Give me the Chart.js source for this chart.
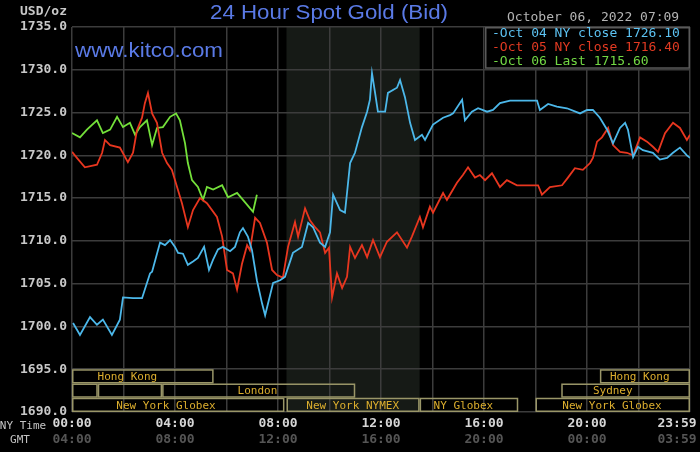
<!DOCTYPE html>
<html>
<head>
<meta charset="utf-8">
<script src="https://cdn.jsdelivr.net/npm/chart.js@4.4.0/dist/chart.umd.min.js"></script>
<style>
html,body{margin:0;padding:0;background:#000;}
canvas{display:block;}
</style>
</head>
<body>
<canvas id="c" width="700" height="452"></canvas>
<script>
// ---- data (NY time in hours, price in USD/oz) ----
const oct04Hours = [0.04,0.31,0.7,0.97,1.2,1.55,1.86,1.98,2.37,2.72,3.03,3.11,3.42,3.61,3.81,4.0,4.12,4.31,4.5,4.7,4.89,5.13,5.32,5.48,5.67,5.86,6.14,6.33,6.52,6.64,6.83,6.99,7.18,7.38,7.5,7.81,8.08,8.27,8.58,8.93,9.17,9.36,9.63,9.83,10.02,10.14,10.41,10.6,10.68,10.8,10.99,11.26,11.46,11.57,11.65,11.77,11.88,12.16,12.27,12.62,12.74,12.93,13.13,13.32,13.59,13.71,14.02,14.41,14.68,14.8,15.15,15.26,15.53,15.77,16.12,16.35,16.62,17.01,18.06,18.17,18.49,18.83,19.22,19.73,20.0,20.23,20.5,20.78,21.01,21.28,21.48,21.59,21.79,21.98,22.17,22.56,22.83,23.11,23.34,23.61,23.88,24.0];
const oct04Values = [1700.4,1699.0,1701.1,1700.2,1700.8,1699.0,1700.8,1703.4,1703.3,1703.3,1706.2,1706.4,1709.8,1709.5,1710.1,1709.3,1708.6,1708.5,1707.2,1707.6,1708.0,1709.3,1706.6,1707.8,1709.0,1709.3,1708.8,1709.3,1711.0,1711.5,1710.5,1708.9,1705.4,1702.7,1701.3,1705.1,1705.4,1705.8,1708.6,1709.3,1712.1,1711.6,1709.8,1709.3,1711.0,1715.4,1713.6,1713.3,1715.6,1719.1,1720.3,1723.3,1725.1,1726.5,1729.6,1727.3,1725.1,1725.1,1727.3,1727.9,1728.8,1726.8,1723.8,1721.8,1722.4,1721.8,1723.6,1724.4,1724.7,1724.9,1726.5,1724.1,1725.1,1725.5,1725.1,1725.3,1726.1,1726.4,1726.4,1725.3,1726.0,1725.7,1725.5,1724.9,1725.3,1725.3,1724.4,1723.0,1721.4,1723.2,1723.8,1723.0,1719.8,1721.0,1720.6,1720.3,1719.5,1719.7,1720.3,1720.9,1720.0,1719.7];

const oct05Hours = [0.0,0.19,0.5,0.97,1.17,1.28,1.48,1.86,2.17,2.37,2.52,2.72,2.83,2.95,3.11,3.3,3.5,3.69,3.88,4.08,4.27,4.5,4.7,4.97,5.24,5.63,5.83,6.02,6.25,6.41,6.6,6.8,6.91,7.11,7.3,7.57,7.77,7.96,8.19,8.39,8.66,8.78,9.05,9.24,9.44,9.63,9.83,9.98,10.1,10.29,10.49,10.68,10.8,10.99,11.26,11.46,11.69,11.96,12.23,12.62,13.01,13.2,13.51,13.63,13.9,14.02,14.41,14.56,14.95,15.18,15.38,15.65,15.84,16.04,16.31,16.62,16.89,17.28,18.1,18.25,18.56,19.03,19.26,19.53,19.84,20.12,20.23,20.39,20.58,20.82,21.01,21.28,21.55,21.79,22.06,22.33,22.56,22.76,23.03,23.34,23.61,23.88,24.0];
const oct05Values = [1720.4,1719.7,1718.6,1718.9,1720.3,1721.8,1721.2,1720.9,1719.2,1720.3,1722.9,1724.4,1726.1,1727.3,1724.9,1723.8,1720.3,1719.1,1718.3,1716.3,1714.4,1711.6,1713.6,1715.0,1714.4,1712.8,1710.5,1706.6,1706.2,1704.3,1707.3,1709.5,1708.9,1712.7,1712.1,1709.8,1706.6,1706.0,1705.7,1709.3,1712.2,1710.5,1713.8,1712.4,1711.6,1711.0,1708.6,1709.2,1703.4,1706.2,1704.5,1705.8,1709.3,1708.0,1709.5,1708.1,1710.1,1708.1,1709.9,1711.0,1709.2,1710.5,1712.8,1711.6,1714.0,1713.3,1715.6,1714.8,1716.8,1717.7,1718.6,1717.4,1717.7,1717.1,1717.9,1716.3,1717.1,1716.5,1716.5,1715.4,1716.3,1716.5,1717.4,1718.5,1718.3,1719.1,1719.7,1721.6,1722.1,1723.2,1721.2,1720.4,1720.3,1720.0,1722.1,1721.6,1721.0,1720.4,1722.6,1723.8,1723.2,1721.8,1722.4];

const oct06Hours = [0.0,0.31,0.58,0.97,1.2,1.48,1.75,1.98,2.25,2.45,2.64,2.91,3.11,3.3,3.53,3.81,4.04,4.19,4.39,4.5,4.66,4.89,5.09,5.24,5.48,5.83,6.06,6.41,6.64,7.03,7.18];
const oct06Values = [1722.6,1722.1,1723.0,1724.1,1722.6,1723.0,1724.5,1723.3,1723.8,1722.4,1723.3,1724.1,1721.2,1723.2,1723.3,1724.5,1724.9,1724.1,1721.4,1719.1,1717.1,1716.3,1714.8,1716.3,1716.0,1716.5,1715.1,1715.6,1714.8,1713.4,1715.4];

const seriesLabels = ['Oct 04 NY close 1726.10','Oct 05 NY close 1716.40','Oct 06 Last 1715.60'];
const seriesColors = ['#4cb8ea','#e8361f','#74e03a'];
const legendColors = ['#5cc2f2','#e23a22','#72d844'];

const xTickHours = [0,4,8,12,16,20,24];
const nyTimeLabels = ['00:00','04:00','08:00','12:00','16:00','20:00','23:59'];
const gmtLabels = ['04:00','08:00','12:00','16:00','20:00','00:00','03:59'];

const nymexShade = [8.33, 13.5];

const sessionNames = ['Hong Kong','','','London','New York Globex','New York NYMEX','NY Globex','Hong Kong','Sydney','New York Globex'];
const sessionStart = [0,0,1.0,3.5,0,8.33,13.5,20.5,19.0,18.0];
const sessionEnd   = [5.5,1.0,3.5,11.0,8.25,13.5,17.33,24,24,24];
const sessionRow   = [0,1,1,1,2,2,2,0,1,2];
const sessionLabelAt = [2.15,0,0,7.2,3.65,10.9,15.2,22.05,21.0,20.97];

const titleText = '24 Hour Spot Gold (Bid)';
const siteText = 'www.kitco.com';
const dateText = 'October 06, 2022 07:09';
const unitText = 'USD/oz';

// ---- helpers ----
const MONO = '"DejaVu Sans Mono", monospace';
function fitText(ctx, text, left, baseline, width){
  const w = ctx.measureText(text).width;
  ctx.save();
  ctx.translate(left, baseline);
  ctx.scale(width / w, 1);
  ctx.textAlign = 'left';
  ctx.textBaseline = 'alphabetic';
  ctx.fillText(text, 0, 0);
  ctx.restore();
}

const overlay = {
  id: 'overlay',
  beforeDraw(chart){
    const {ctx, chartArea:a, scales:{x}} = chart;
    ctx.save();
    ctx.fillStyle = '#000';
    ctx.fillRect(0,0,chart.width,chart.height);
    const x1 = x.getPixelForValue(nymexShade[0]);
    const x2 = x.getPixelForValue(nymexShade[1]);
    ctx.fillStyle = '#161a16';
    ctx.fillRect(x1, a.top, x2-x1, a.bottom-a.top);
    ctx.restore();
  },
  afterDraw(chart){
    const {ctx, chartArea:a, scales:{x,y}} = chart;
    ctx.save();
    // session boxes
    const top = y.getPixelForValue(1695), bot = y.getPixelForValue(1690);
    const rh = (bot - top) / 3;
    ctx.lineWidth = 1.5;
    ctx.strokeStyle = '#9a9668';
    ctx.font = '11px ' + MONO;
    ctx.textAlign = 'center';
    ctx.textBaseline = 'middle';
    for (let i=0;i<sessionNames.length;i++){
      const bx1 = x.getPixelForValue(sessionStart[i]);
      const bx2 = x.getPixelForValue(sessionEnd[i]);
      const by = top + sessionRow[i]*rh;
      ctx.strokeRect(bx1+0.75, by+0.75, bx2-bx1-1.5, rh-1.5);
      if (sessionNames[i]){
        ctx.fillStyle = '#dcae2e';
        ctx.fillText(sessionNames[i], x.getPixelForValue(sessionLabelAt[i]), by + rh/2 + 1);
      }
    }
    // x labels
    ctx.font = 'bold 13px ' + MONO;
    for (let i=0;i<xTickHours.length;i++){
      let px = x.getPixelForValue(xTickHours[i]);
      if (i === xTickHours.length-1) px -= 13;
      ctx.textAlign = 'center';
      ctx.fillStyle = '#d6d6d6';
      ctx.fillText(nyTimeLabels[i], px, a.bottom + 12);
      ctx.fillStyle = '#555555';
      ctx.fillText(gmtLabels[i], px, a.bottom + 28);
    }
    ctx.font = '11px ' + MONO;
    ctx.fillStyle = '#c4c4c4';
    ctx.textAlign = 'center';
    ctx.fillText('NY Time', 23, a.bottom + 14);
    ctx.fillText('GMT', 20, a.bottom + 28);
    // unit label
    ctx.font = 'bold 13px ' + MONO;
    ctx.textAlign = 'right';
    ctx.fillStyle = '#c8c8c8';
    ctx.fillText(unitText, a.left - 5, 12);
    // date
    ctx.font = '13px ' + MONO;
    ctx.textAlign = 'left';
    ctx.fillStyle = '#b4b4b4';
    ctx.fillText(dateText, 507, 18);
    // title and site
    ctx.fillStyle = '#5a7ae6';
    ctx.font = '20px "Liberation Sans", Arial, sans-serif';
    fitText(ctx, titleText, 210, 19, 238);
    fitText(ctx, siteText, a.left + 3, 57, 148);
    // legend box
    const lx1 = 485, lx2 = a.right, ly1 = a.top, ly2 = y.getPixelForValue(1730) - 1;
    ctx.fillStyle = '#000';
    ctx.fillRect(lx1, ly1, lx2-lx1, ly2-ly1);
    ctx.strokeStyle = '#5a5a5a';
    ctx.lineWidth = 1.5;
    ctx.strokeRect(lx1+0.75, ly1+0.75, lx2-lx1-1.5, ly2-ly1-1.5);
    ctx.font = '13px ' + MONO;
    ctx.textAlign = 'left';
    ctx.textBaseline = 'middle';
    for (let i=0;i<seriesLabels.length;i++){
      ctx.fillStyle = legendColors[i];
      ctx.fillText('-' + seriesLabels[i], lx1 + 7, ly1 + 7 + i*14);
    }
    ctx.restore();
  }
};

const toPts = (hs, vs) => hs.map((h,i)=>({x:h, y:vs[i]}));

new Chart(document.getElementById('c'), {
  type: 'line',
  data: {
    datasets: [
      {label: seriesLabels[0], data: toPts(oct04Hours, oct04Values), borderColor: seriesColors[0]},
      {label: seriesLabels[1], data: toPts(oct05Hours, oct05Values), borderColor: seriesColors[1]},
      {label: seriesLabels[2], data: toPts(oct06Hours, oct06Values), borderColor: seriesColors[2]}
    ].map(d => Object.assign(d, {borderWidth: 1.8, pointRadius: 0, tension: 0, fill: false}))
  },
  options: {
    responsive: false,
    animation: false,
    layout: {padding: {top: 27, right: 10, bottom: 40, left: 0}},
    plugins: {legend: {display: false}, tooltip: {enabled: false}, title: {display: false}},
    scales: {
      x: {
        type: 'linear', min: 0, max: 24,
        ticks: {display: false, stepSize: 2},
        grid: {color: '#3c3c3c', lineWidth: 1.5, drawTicks: false},
        border: {display: false}
      },
      y: {
        min: 1690, max: 1735,
        ticks: {stepSize: 5, color: '#c8c8c8', padding: 5,
          font: {family: 'DejaVu Sans Mono', size: 13, weight: 'bold'},
          callback: v => v.toFixed(1)},
        grid: {color: '#3c3c3c', lineWidth: 1.5, drawTicks: false},
        border: {display: false},
        afterFit(s){ s.width = 72; }
      }
    }
  },
  plugins: [overlay]
});
</script>
</body>
</html>
